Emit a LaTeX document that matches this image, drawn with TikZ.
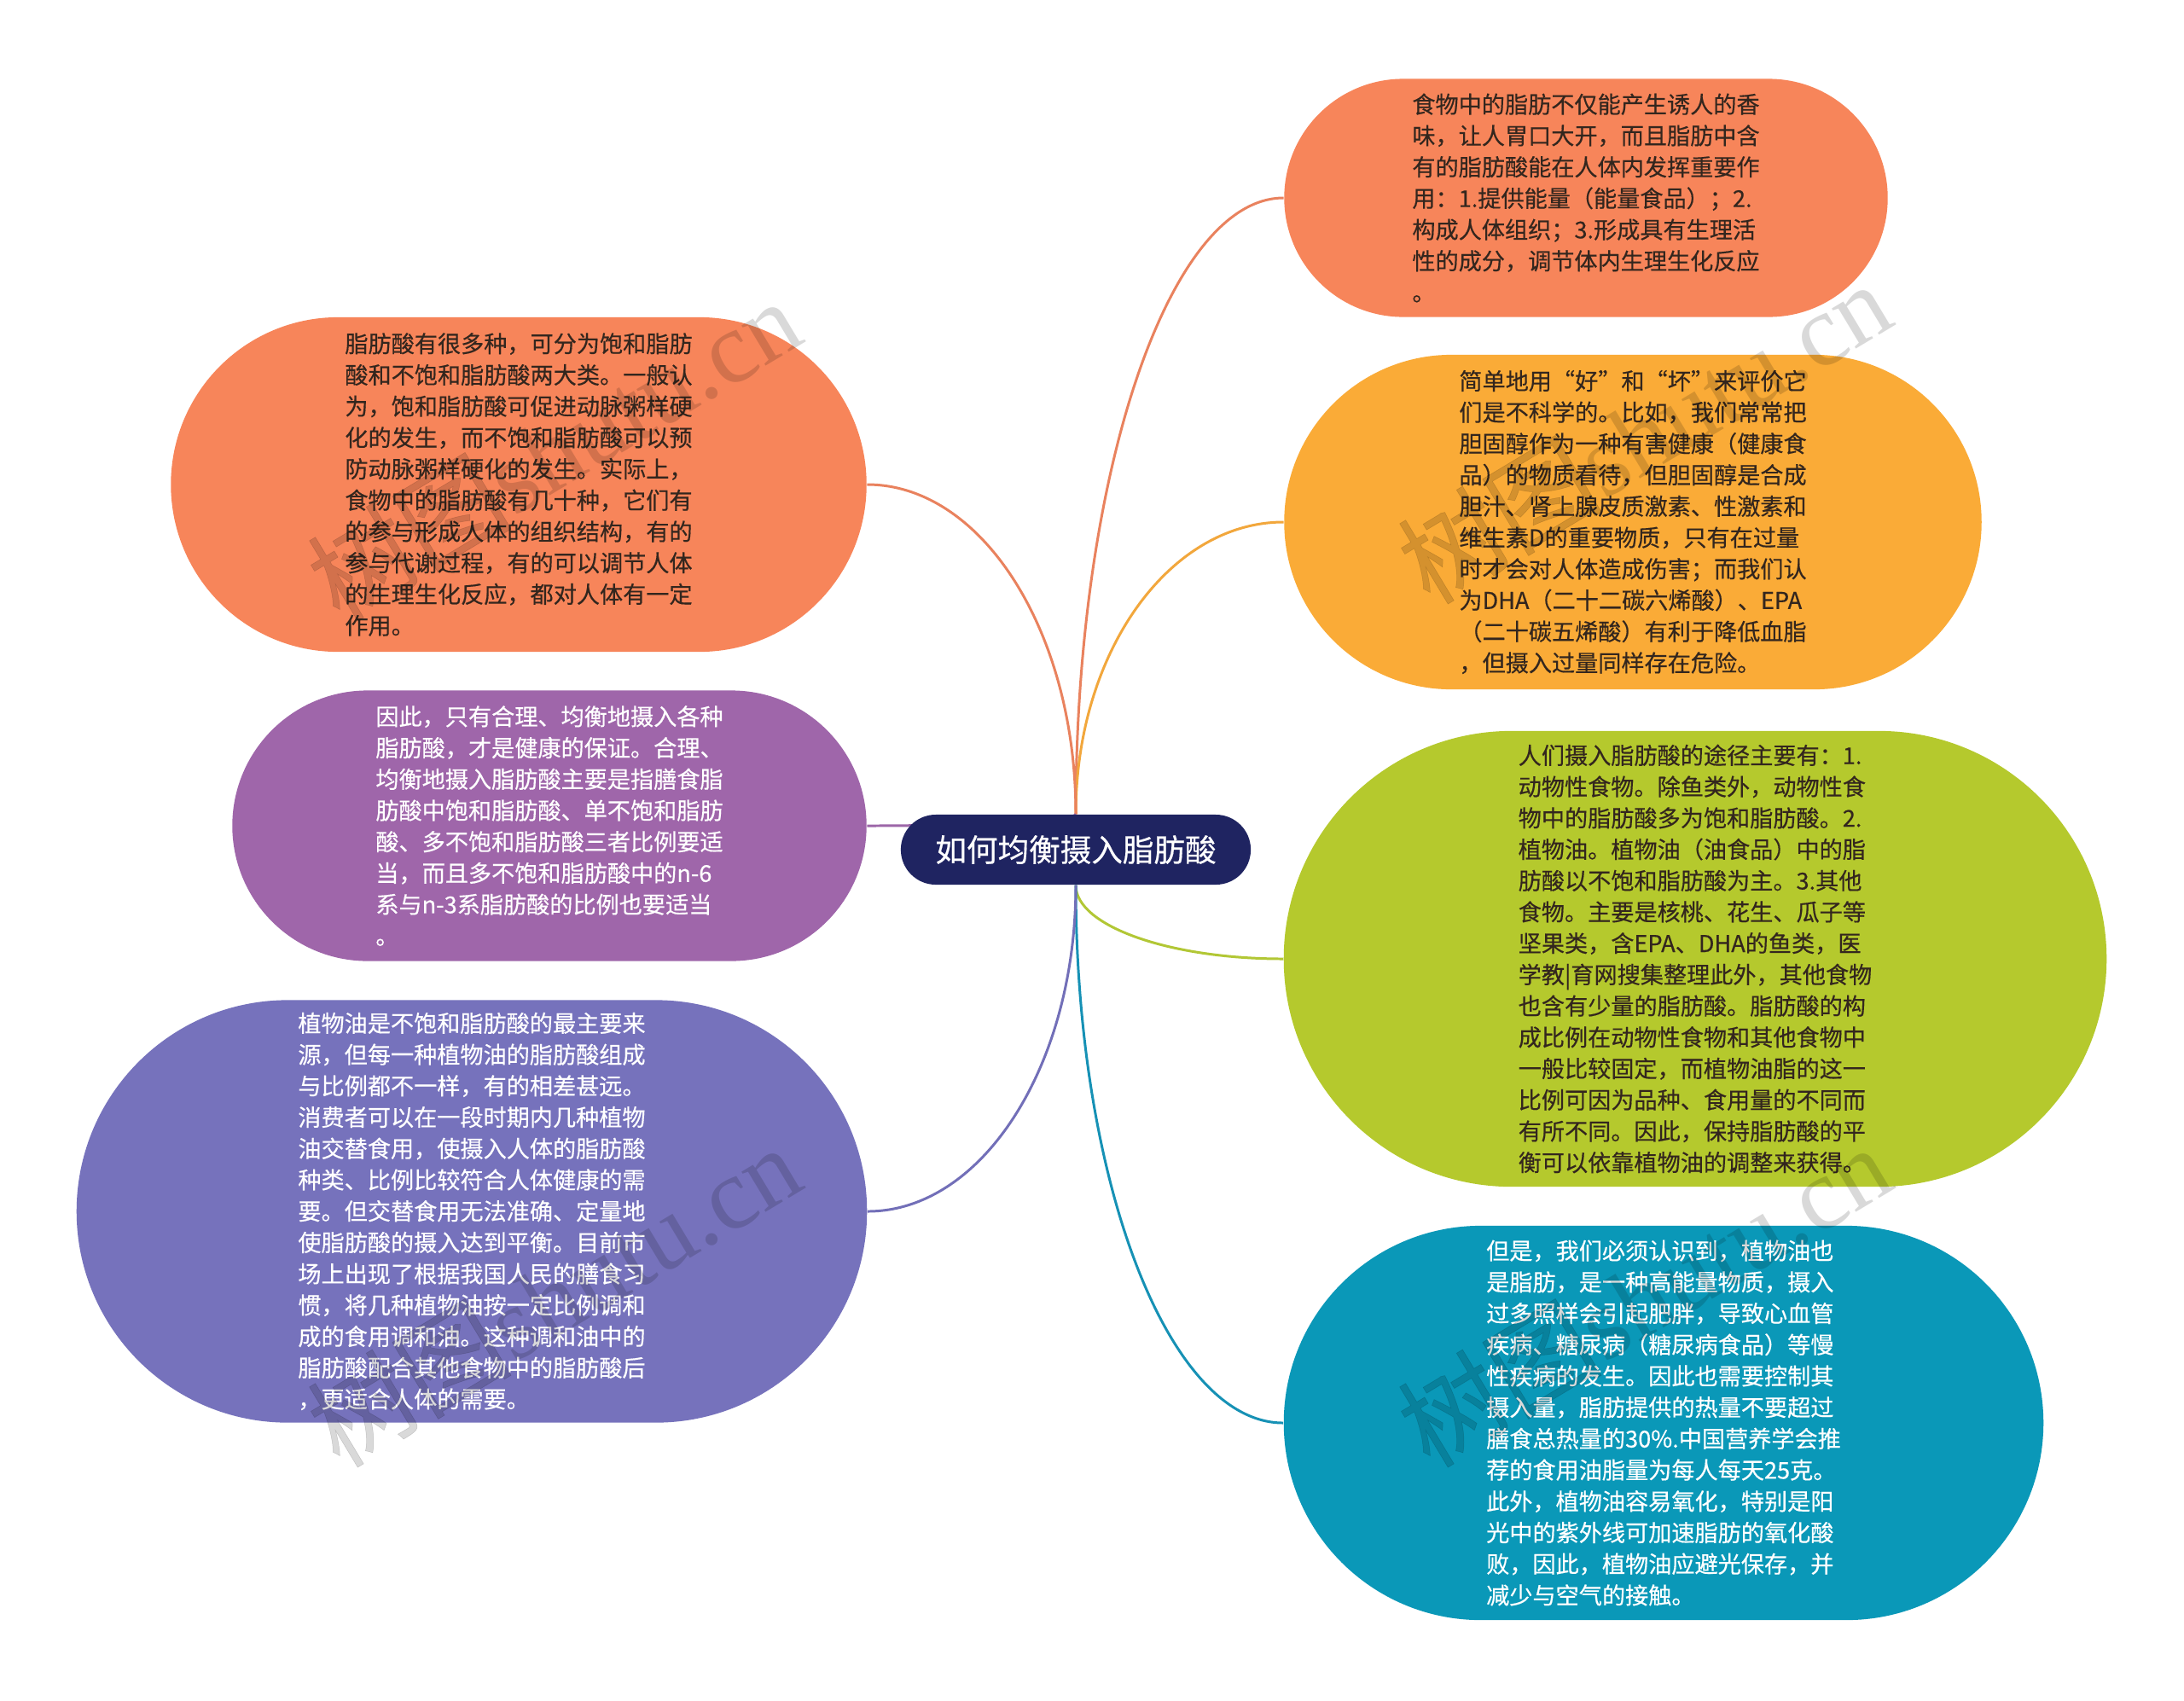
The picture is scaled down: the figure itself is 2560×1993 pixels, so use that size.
\documentclass[tikz,border=0pt]{standalone}
\usepackage{fontspec}
\setmainfont{Noto Sans CJK SC}[FakeBold=0.4]
\newfontfamily\leaffont{Noto Sans CJK SC}[FakeBold=0.4]
\newfontfamily\wmlatin{Liberation Serif}
\usetikzlibrary{calc}
\pgfdeclarelayer{bg}
\pgfsetlayers{bg,main}
\definecolor{cOrange}{HTML}{F7855A}
\definecolor{cAmber}{HTML}{FAAB37}
\definecolor{cLime}{HTML}{B5C92D}
\definecolor{cTeal}{HTML}{0A98B8}
\definecolor{cPurple}{HTML}{9F66AA}
\definecolor{cIndigo}{HTML}{7672BC}
\definecolor{cNavy}{HTML}{1F2461}
\definecolor{txtDark}{HTML}{33261E}
\definecolor{lOrange}{HTML}{E9825E}
\definecolor{lAmber}{HTML}{F2A73C}
\definecolor{lLime}{HTML}{B2C735}
\definecolor{lTeal}{HTML}{1691B5}
\definecolor{lPurple}{HTML}{9C66A8}
\definecolor{lIndigo}{HTML}{726FB8}
\tikzset{
  leaf/.style={inner sep=0pt, align=left, font=\fontsize{7.72pt}{10.44pt}\selectfont},
  darktxt/.style={text=txtDark},
  lighttxt/.style={text=white},
  conn/.style={line width=0.85pt, draw=#1},
  wmark/.style={rotate=31, text=black, opacity=0.15, inner sep=0pt},
}
\begin{document}
\begin{tikzpicture}[x=0.01cm, y=-0.01cm]
\useasboundingbox (0,0) rectangle (2560,1993);

% central topic
\node[fill=cNavy, text=white, inner sep=0pt, minimum width=4.10cm, minimum height=0.82cm, rounded corners=0.41cm, font=\fontsize{10.4pt}{12pt}\selectfont] (c) at (1261,996) {如何均衡摄入脂肪酸};

% right side
\node[leaf, darktxt, fill=cOrange, minimum width=7.07cm, minimum height=2.79cm, rounded corners=1.395cm] (n1) at (1859,232) {食物中的脂肪不仅能产生诱人的香\\
味，让人胃口大开，而且脂肪中含\\
有的脂肪酸能在人体内发挥重要作\\
用：1.提供能量（能量食品）；2.\\
构成人体组织；3.形成具有生理活\\
性的成分，调节体内生理生化反应\\
。};

\node[leaf, darktxt, fill=cAmber, minimum width=8.17cm, minimum height=3.92cm, rounded corners=1.96cm] (n2) at (1914,612) {简单地用“好”和“坏”来评价它\\
们是不科学的。比如，我们常常把\\
胆固醇作为一种有害健康（健康食\\
品）的物质看待，但胆固醇是合成\\
胆汁、肾上腺皮质激素、性激素和\\
维生素D的重要物质，只有在过量\\
时才会对人体造成伤害；而我们认\\
为DHA（二十二碳六烯酸）、EPA\\
（二十碳五烯酸）有利于降低血脂\\
，但摄入过量同样存在危险。};

\node[leaf, darktxt, fill=cLime, minimum width=9.64cm, minimum height=5.34cm, rounded corners=2.67cm] (n3) at (1987,1124) {人们摄入脂肪酸的途径主要有：1.\\
动物性食物。除鱼类外，动物性食\\
物中的脂肪酸多为饱和脂肪酸。2.\\
植物油。植物油（油食品）中的脂\\
肪酸以不饱和脂肪酸为主。3.其他\\
食物。主要是核桃、花生、瓜子等\\
坚果类，含EPA、DHA的鱼类，医\\
学教|育网搜集整理此外，其他食物\\
也含有少量的脂肪酸。脂肪酸的构\\
成比例在动物性食物和其他食物中\\
一般比较固定，而植物油脂的这一\\
比例可因为品种、食用量的不同而\\
有所不同。因此，保持脂肪酸的平\\
衡可以依靠植物油的调整来获得。};

\node[leaf, lighttxt, fill=cTeal, minimum width=8.90cm, minimum height=4.62cm, rounded corners=2.31cm] (n4) at (1950,1668) {但是，我们必须认识到，植物油也\\
是脂肪，是一种高能量物质，摄入\\
过多照样会引起肥胖，导致心血管\\
疾病、糖尿病（糖尿病食品）等慢\\
性疾病的发生。因此也需要控制其\\
摄入量，脂肪提供的热量不要超过\\
膳食总热量的30\%.中国营养学会推\\
荐的食用油脂量为每人每天25克。\\
此外，植物油容易氧化，特别是阳\\
光中的紫外线可加速脂肪的氧化酸\\
败，因此，植物油应避光保存，并\\
减少与空气的接触。};

% left side
\node[leaf, darktxt, fill=cOrange, minimum width=8.15cm, minimum height=3.92cm, rounded corners=1.96cm] (n5) at (608,568) {脂肪酸有很多种，可分为饱和脂肪\\
酸和不饱和脂肪酸两大类。一般认\\
为，饱和脂肪酸可促进动脉粥样硬\\
化的发生，而不饱和脂肪酸可以预\\
防动脉粥样硬化的发生。实际上，\\
食物中的脂肪酸有几十种，它们有\\
的参与形成人体的组织结构，有的\\
参与代谢过程，有的可以调节人体\\
的生理生化反应，都对人体有一定\\
作用。};

\node[leaf, lighttxt, fill=cPurple, minimum width=7.43cm, minimum height=3.17cm, rounded corners=1.585cm] (n6) at (644,968) {因此，只有合理、均衡地摄入各种\\
脂肪酸，才是健康的保证。合理、\\
均衡地摄入脂肪酸主要是指膳食脂\\
肪酸中饱和脂肪酸、单不饱和脂肪\\
酸、多不饱和脂肪酸三者比例要适\\
当，而且多不饱和脂肪酸中的n-6\\
系与n-3系脂肪酸的比例也要适当\\
。};

\node[leaf, lighttxt, fill=cIndigo, minimum width=9.26cm, minimum height=4.95cm, rounded corners=2.475cm] (n7) at (553,1420) {植物油是不饱和脂肪酸的最主要来\\
源，但每一种植物油的脂肪酸组成\\
与比例都不一样，有的相差甚远。\\
消费者可以在一段时期内几种植物\\
油交替食用，使摄入人体的脂肪酸\\
种类、比例比较符合人体健康的需\\
要。但交替食用无法准确、定量地\\
使脂肪酸的摄入达到平衡。目前市\\
场上出现了根据我国人民的膳食习\\
惯，将几种植物油按一定比例调和\\
成的食用调和油。这种调和油中的\\
脂肪酸配合其他食物中的脂肪酸后\\
，更适合人体的需要。};

% corner helpers for the elliptic connectors
\coordinate (k1) at (c.north |- n1.west);
\coordinate (k2) at (c.north |- n2.west);
\coordinate (k3) at (c.south |- n3.west);
\coordinate (k4) at (c.south |- n4.west);
\coordinate (k5) at (c.north |- n5.east);
\coordinate (k6) at (c.north |- n6.east);
\coordinate (k7) at (c.south |- n7.east);

% background and connectors
\begin{pgfonlayer}{bg}
\fill[white] (0,0) rectangle (2560,1993);
\draw[conn=lOrange] (c.north) .. controls ($(c.north)!0.552!(k1)$) and ($(n1.west)!0.552!(k1)$) .. (n1.west);
\draw[conn=lAmber]  (c.north) .. controls ($(c.north)!0.552!(k2)$) and ($(n2.west)!0.552!(k2)$) .. (n2.west);
\draw[conn=lLime]   (c.south) .. controls ($(c.south)!0.552!(k3)$) and ($(n3.west)!0.552!(k3)$) .. (n3.west);
\draw[conn=lTeal]   (c.south) .. controls ($(c.south)!0.552!(k4)$) and ($(n4.west)!0.552!(k4)$) .. (n4.west);
\draw[conn=lOrange] (c.north) .. controls ($(c.north)!0.552!(k5)$) and ($(n5.east)!0.552!(k5)$) .. (n5.east);
\draw[conn=lPurple] (c.north) .. controls ($(c.north)!0.552!(k6)$) and ($(n6.east)!0.552!(k6)$) .. (n6.east);
\draw[conn=lIndigo] (c.south) .. controls ($(c.south)!0.552!(k7)$) and ($(n7.east)!0.552!(k7)$) .. (n7.east);
\end{pgfonlayer}

% watermarks
\node[wmark] (wm1) at (649,526) {\fontsize{34pt}{40pt}\selectfont 树图{\wmlatin shutu.cn}};
\node[wmark] (wm2) at (1927,506) {\fontsize{34pt}{40pt}\selectfont 树图{\wmlatin shutu.cn}};
\node[wmark] (wm3) at (649,1518) {\fontsize{34pt}{40pt}\selectfont 树图{\wmlatin shutu.cn}};
\node[wmark] (wm4) at (1927,1518) {\fontsize{34pt}{40pt}\selectfont 树图{\wmlatin shutu.cn}};
\end{tikzpicture}
\end{document}
